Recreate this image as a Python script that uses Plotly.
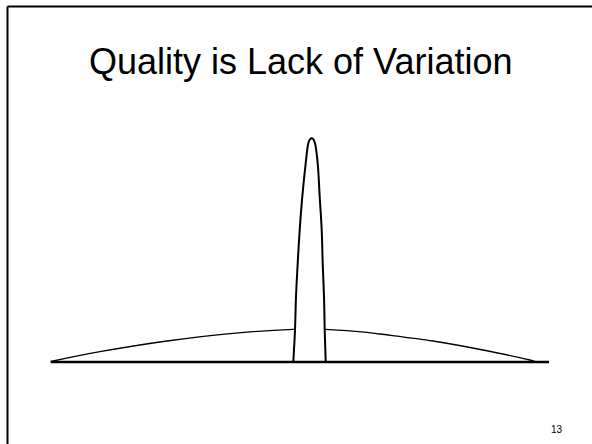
import plotly.graph_objects as go

W, H = 592, 444

# Data
# x: horizontal offset from the narrow peak's centre, y: height above the baseline
wide_x = [-261.0, -211.7, -144.7, -78.7, -18.7, -2.7, 13.3, 55.3, 68.3, 121.3, 171.3, 218.3, 223.3]
wide_y = [0.5, 10.3, 21.0, 28.7, 32.7, 33.0, 32.7, 29.7, 28.0, 21.0, 12.0, 2.0, 0.5]

narrow_x = [-18.4, -16.7, -15.7, -14.0, -12.0, -9.4, -6.0, -3.4, -1.7, 0.0,
            1.7, 3.3, 6.0, 8.0, 10.0, 11.0, 12.3, 13.0, 14.0]
narrow_y = [0.0, 32.0, 65.3, 98.7, 132.0, 165.3, 198.7, 218.7, 222.6, 223.7,
            222.6, 218.7, 198.7, 165.3, 132.0, 98.7, 65.3, 32.0, 0.0]

base_x = [-261.0, 237.3]
base_y = [0.0, 0.0]

title_text = "Quality is Lack of Variation"
page_number = "13"

fig = go.Figure()

fig.add_trace(go.Scatter(x=wide_x, y=wide_y, mode="lines",
                         line=dict(color="black", width=1.3, shape="spline"),
                         hoverinfo="skip"))
fig.add_trace(go.Scatter(x=narrow_x, y=narrow_y, mode="lines", fill="toself",
                         fillcolor="white",
                         line=dict(color="black", width=2, shape="spline"),
                         hoverinfo="skip"))
fig.add_trace(go.Scatter(x=base_x, y=base_y, mode="lines",
                         line=dict(color="black", width=2.5),
                         hoverinfo="skip"))

# slide border (top and left edges visible)
fig.add_shape(type="line", xref="paper", yref="paper",
              x0=7.5 / W, x1=1.0, y0=1 - 6.5 / H, y1=1 - 6.5 / H,
              line=dict(color="black", width=2))
fig.add_shape(type="line", xref="paper", yref="paper",
              x0=7.5 / W, x1=7.5 / W, y0=1 - 6.5 / H, y1=0.0,
              line=dict(color="black", width=2))

fig.add_annotation(text=title_text, xref="paper", yref="paper",
                   x=301 / W, y=1 - 61 / H, xanchor="center", yanchor="middle",
                   showarrow=False,
                   font=dict(family="Liberation Sans, Arial", size=36, color="black"))
fig.add_annotation(text=page_number, xref="paper", yref="paper",
                   x=557 / W, y=1 - 429 / H, xanchor="center", yanchor="middle",
                   showarrow=False,
                   font=dict(family="Liberation Sans, Arial", size=10, color="black"))

fig.update_layout(width=W, height=H, margin=dict(l=0, r=0, t=0, b=0),
                  paper_bgcolor="white", plot_bgcolor="white", showlegend=False,
                  xaxis=dict(range=[-311.7, 280.3], visible=False, fixedrange=True),
                  yaxis=dict(range=[-82, 362], visible=False, fixedrange=True))

fig.write_html("out.html",
               config={"displayModeBar": False},
               post_script="document.body.style.margin='0';document.body.style.overflow='hidden';")
